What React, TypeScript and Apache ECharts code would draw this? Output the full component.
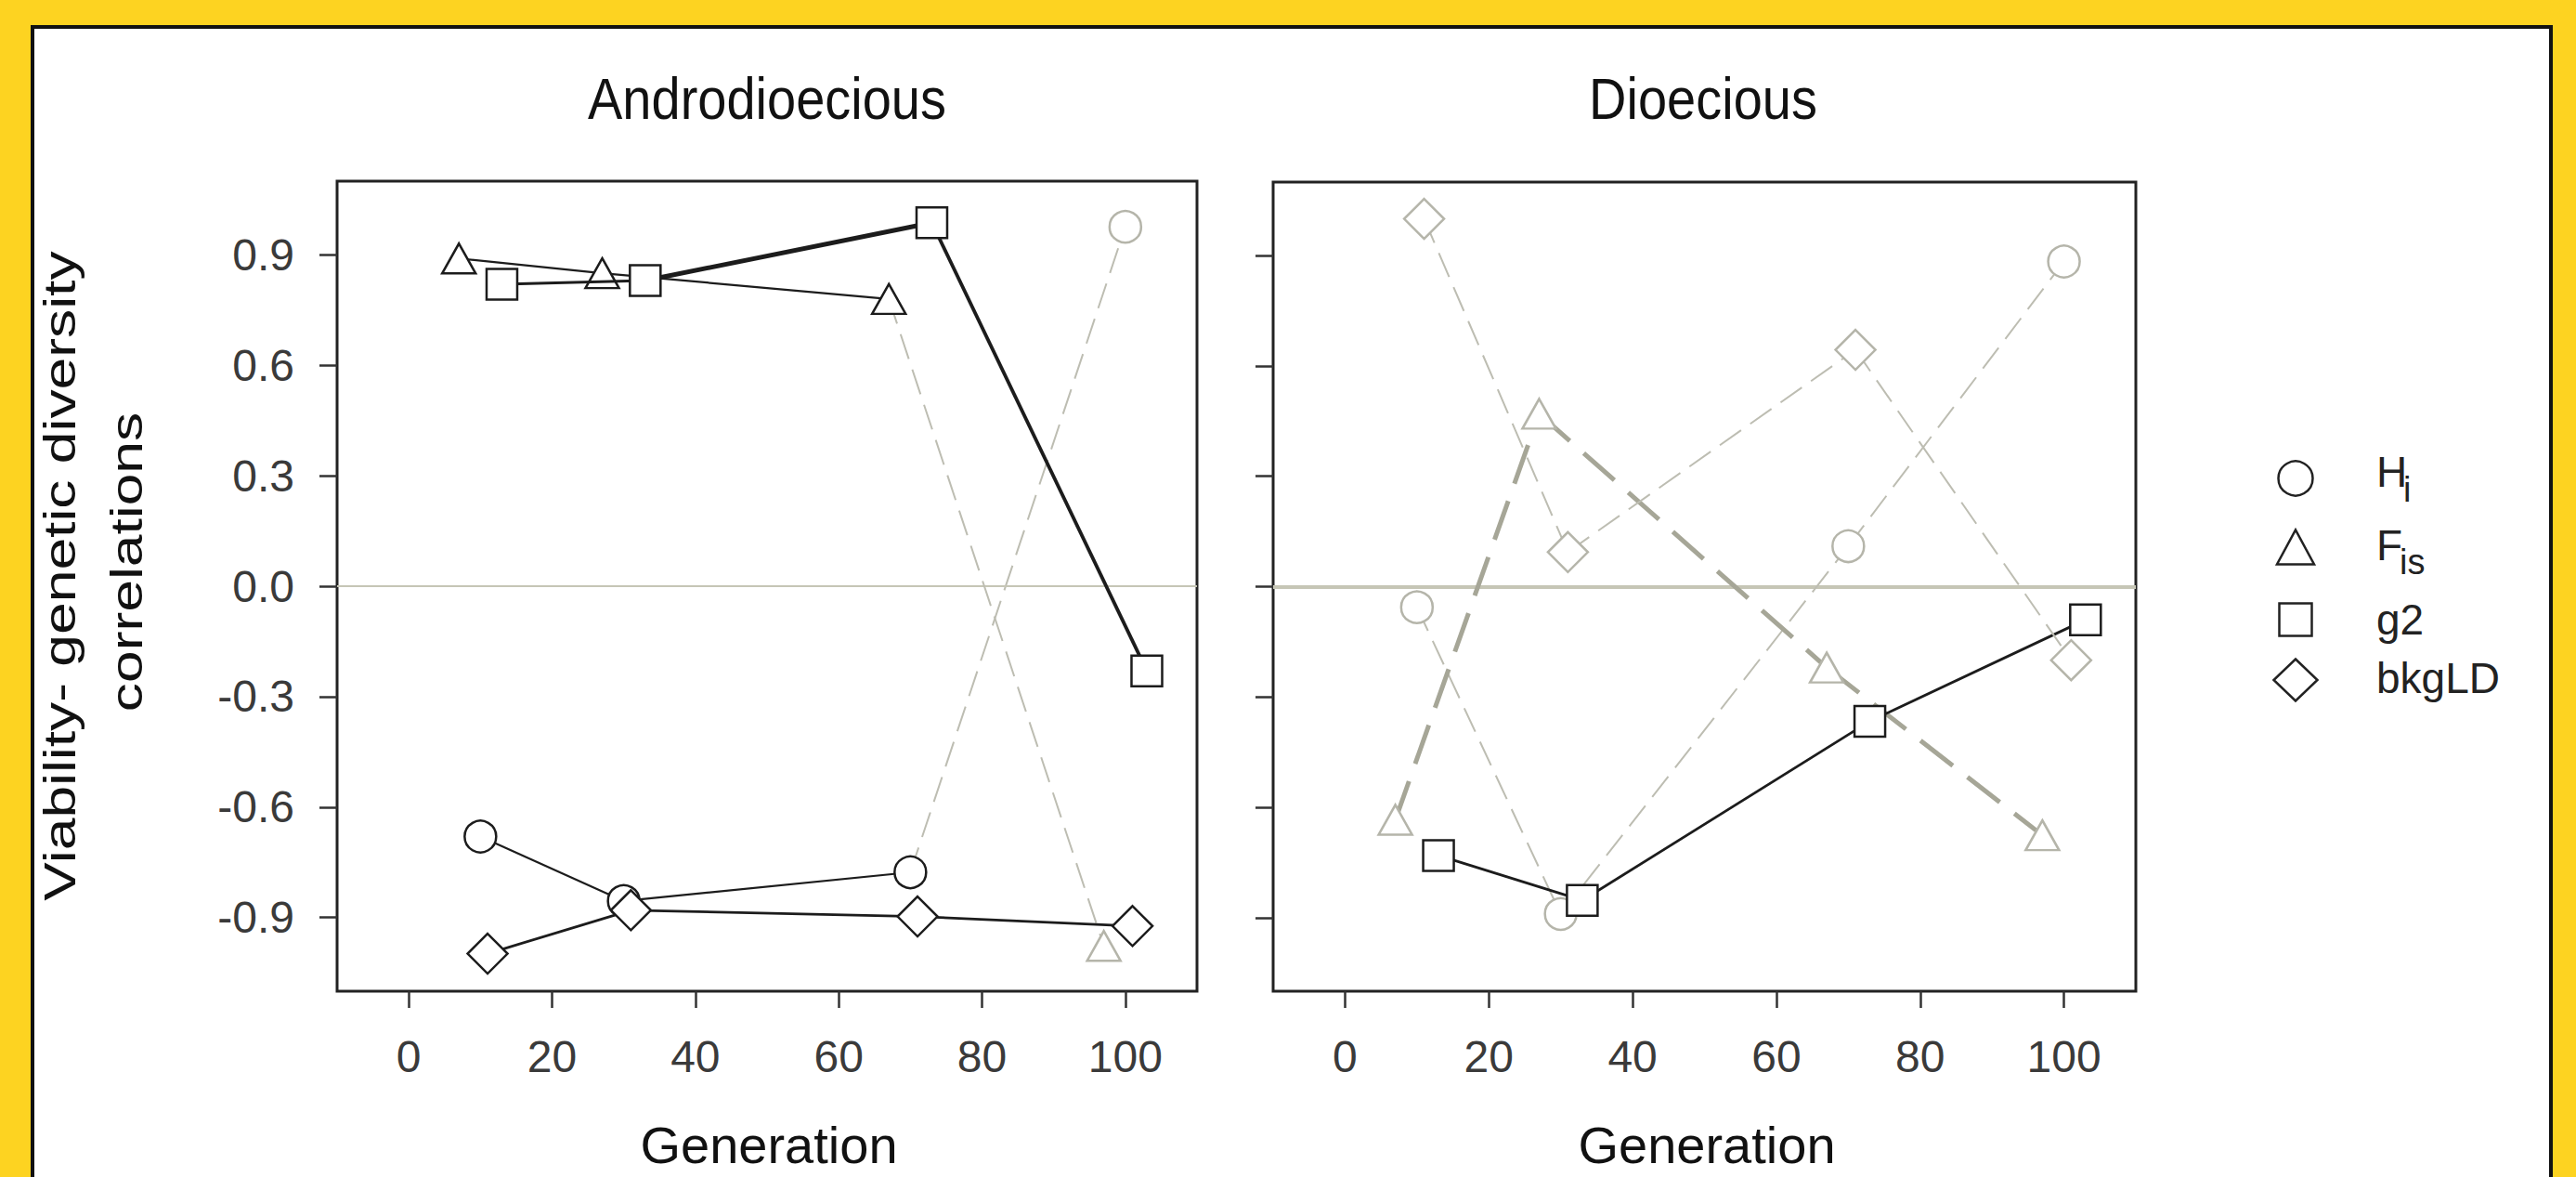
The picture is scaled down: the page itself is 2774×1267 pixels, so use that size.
import React, { useEffect, useRef } from 'react';
import * as echarts from 'echarts';

// ---------- data ----------
const PANELS = ['Androdioecious', 'Dioecious'];
const VARIABLES = ['Hi', 'Fis', 'g2', 'bkgLD'];
const X_TICKS = [0, 20, 40, 60, 80, 100];
const Y_TICKS = [-0.9, -0.6, -0.3, 0, 0.3, 0.6, 0.9];

// generation (x) of each point, slightly offset per variable as in the figure
const GEN_HI = [10, 30, 70, 100];
const GEN_FIS = [7, 27, 67, 97];
const GEN_G2 = [13, 33, 73, 103];
const GEN_BKGLD = [11, 31, 71, 101];

// Androdioecious correlations
const ANDRO_HI = [-0.68, -0.855, -0.777, 0.976];
const ANDRO_FIS = [0.89, 0.85, 0.78, -0.977];
const ANDRO_G2 = [0.82, 0.83, 0.987, -0.23];
const ANDRO_BKGLD = [-0.998, -0.88, -0.897, -0.923];

// Dioecious correlations
const DIO_HI = [-0.056, -0.89, 0.11, 0.884];
const DIO_FIS = [-0.634, 0.47, -0.22, -0.676];
const DIO_G2 = [-0.731, -0.853, -0.366, -0.09];
const DIO_BKGLD = [1.0, 0.094, 0.644, -0.2];

// ---------- styles ----------
const FONT = 'Liberation Sans, Arial, Helvetica, sans-serif';
const BLACK = '#1c1c1c';
const GREY_PT = '#b5b5aa';

const LINE_STYLES: Record<string, any> = {
  thin: { color: BLACK, width: 2.2, type: 'solid' },
  med: { color: BLACK, width: 2.8, type: 'solid' },
  mid: { color: BLACK, width: 3.2, type: 'solid' },
  bold: { color: BLACK, width: 5, type: 'solid' },
  bold2: { color: BLACK, width: 3.8, type: 'solid' },
  dash: { color: '#bdbdb2', width: 2, type: [28, 12] },
  thick: { color: '#a6a697', width: 5, type: [44, 20] },
};

const SEG_STYLE = [
  { Hi: ['thin', 'thin', 'dash'], Fis: ['thin', 'thin', 'dash'], g2: ['mid', 'bold', 'bold2'], bkgLD: ['med', 'med', 'med'] },
  { Hi: ['dash', 'dash', 'dash'], Fis: ['thick', 'thick', 'thick'], g2: ['med', 'med', 'med'], bkgLD: ['dash', 'dash', 'dash'] },
];
const PT_STYLE = [
  { Hi: ['k', 'k', 'k', 'g'], Fis: ['k', 'k', 'k', 'g'], g2: ['k', 'k', 'k', 'k'], bkgLD: ['k', 'k', 'k', 'k'] },
  { Hi: ['g', 'g', 'g', 'g'], Fis: ['g', 'g', 'g', 'g'], g2: ['k', 'k', 'k', 'k'], bkgLD: ['g', 'g', 'g', 'g'] },
];

const SYMBOLS: Record<string, { symbol: string; size: any }> = {
  Hi: { symbol: 'circle', size: 34 },
  Fis: { symbol: 'triangle', size: [36, 32] },
  g2: { symbol: 'rect', size: 33 },
  bkgLD: { symbol: 'diamond', size: 43 },
};

const GENS: Record<string, number[]> = { Hi: GEN_HI, Fis: GEN_FIS, g2: GEN_G2, bkgLD: GEN_BKGLD };
const VALUES: Record<string, number[]>[] = [
  { Hi: ANDRO_HI, Fis: ANDRO_FIS, g2: ANDRO_G2, bkgLD: ANDRO_BKGLD },
  { Hi: DIO_HI, Fis: DIO_FIS, g2: DIO_G2, bkgLD: DIO_BKGLD },
];

const GRIDS = [
  { left: 363, top: 195, width: 926, height: 872 },
  { left: 1371, top: 196, width: 929, height: 871 },
];

function buildOption() {
  const series: any[] = [];
  let z = 3;
  PANELS.forEach((panel, p) => {
    // zero reference line
    series.push({
      type: 'line',
      name: panel + ' zero',
      xAxisIndex: p,
      yAxisIndex: p,
      data: [],
      silent: true,
      z: 1,
      markLine: {
        silent: true,
        symbol: 'none',
        label: { show: false },
        lineStyle: { color: '#c6c6b6', width: p === 0 ? 2 : 4, type: 'solid' },
        data: [{ yAxis: 0 }],
      },
    });
    VARIABLES.forEach((v) => {
      const xs = GENS[v];
      const ys = VALUES[p][v];
      const segs = (SEG_STYLE[p] as any)[v] as string[];
      const pts = (PT_STYLE[p] as any)[v] as string[];
      for (let i = 0; i < xs.length - 1; i++) {
        series.push({
          type: 'line',
          name: v,
          xAxisIndex: p,
          yAxisIndex: p,
          symbol: 'none',
          silent: true,
          z: z,
          lineStyle: LINE_STYLES[segs[i]],
          data: [
            [xs[i], ys[i]],
            [xs[i + 1], ys[i + 1]],
          ],
        });
      }
      z++;
      series.push({
        type: 'scatter',
        name: v,
        xAxisIndex: p,
        yAxisIndex: p,
        symbol: SYMBOLS[v].symbol,
        symbolSize: SYMBOLS[v].size,
        silent: true,
        z: z,
        itemStyle: { color: '#ffffff', borderWidth: 2.5, opacity: 1 },
        data: xs.map((x, i) => ({
          value: [x, ys[i]],
          itemStyle: { borderColor: pts[i] === 'k' ? BLACK : GREY_PT },
        })),
      });
      z++;
    });
  });

  const xAxis = PANELS.map((_, p) => ({
    type: 'value',
    gridIndex: p,
    position: 'bottom',
    min: -10,
    max: 110,
    axisLine: { show: false, onZero: false },
    splitLine: { show: false },
    axisTick: {
      show: true,
      length: 18,
      customValues: X_TICKS,
      lineStyle: { color: '#333', width: 2.5 },
    },
    axisLabel: {
      customValues: X_TICKS,
      fontSize: 48,
      fontFamily: FONT,
      color: '#3a3a3a',
      margin: 46,
    },
  }));

  const yAxis = PANELS.map((_, p) => ({
    type: 'value',
    gridIndex: p,
    position: 'left',
    min: -1.1,
    max: 1.1,
    axisLine: { show: false, onZero: false },
    splitLine: { show: false },
    axisTick: {
      show: true,
      length: 19,
      customValues: Y_TICKS,
      lineStyle: { color: '#333', width: 2.5 },
    },
    axisLabel: {
      show: p === 0,
      customValues: Y_TICKS,
      fontSize: 48,
      fontFamily: FONT,
      color: '#3a3a3a',
      margin: 46,
      formatter: (val: number) => val.toFixed(1),
    },
  }));

  const grid = GRIDS.map((g) => ({
    ...g,
    show: true,
    borderColor: '#222',
    borderWidth: 3,
    backgroundColor: 'transparent',
  }));

  const titleText = (text: string, x: number, y: number, sy: number) => ({
    type: 'text',
    x,
    y,
    scaleY: sy,
    z: 50,
    style: {
      text,
      fontSize: 56,
      fontFamily: FONT,
      fill: '#111',
      align: 'center',
      verticalAlign: 'middle',
    },
  });

  const legendY = [515, 589, 667, 732];
  const legendX = 2472;
  const legendMarkers: any[] = [
    { type: 'circle', shape: { cx: legendX, cy: legendY[0], r: 18.5 } },
    {
      type: 'polygon',
      shape: { points: [[legendX - 20, legendY[1] + 18.5], [legendX + 20, legendY[1] + 18.5], [legendX, legendY[1] - 18.5]] },
    },
    { type: 'rect', shape: { x: legendX - 17.5, y: legendY[2] - 17.5, width: 35, height: 35 } },
    {
      type: 'polygon',
      shape: { points: [[legendX, legendY[3] - 22.5], [legendX + 23.5, legendY[3]], [legendX, legendY[3] + 22.5], [legendX - 23.5, legendY[3]]] },
    },
  ].map((m) => ({ ...m, z: 50, style: { fill: '#fff', stroke: '#222', lineWidth: 2.5 } }));

  const legendText = (text: string, x: number, y: number, size: number) => ({
    type: 'text',
    x,
    y,
    z: 50,
    style: { text, fontSize: size, fontFamily: FONT, fill: '#222', align: 'left', verticalAlign: 'middle' },
  });

  const graphic: any[] = [
    {
      type: 'rect',
      z: -100,
      shape: { x: 35, y: 29, width: 2712, height: 1300 },
      style: { fill: '#ffffff', stroke: '#111', lineWidth: 4 },
    },
    titleText(PANELS[0], 826, 106, 1.12),
    titleText(PANELS[1], 1834, 106, 1.12),
    titleText('Generation', 828, 1232, 1.0),
    titleText('Generation', 1838, 1232, 1.0),
    {
      type: 'text',
      x: 65,
      y: 620,
      rotation: Math.PI / 2,
      scaleX: 1.3,
      z: 50,
      style: { text: 'Viability- genetic diversity', fontSize: 48, fontFamily: FONT, fill: '#111', align: 'center', verticalAlign: 'middle' },
    },
    {
      type: 'text',
      x: 137,
      y: 605,
      rotation: Math.PI / 2,
      scaleX: 1.3,
      z: 50,
      style: { text: 'correlations', fontSize: 48, fontFamily: FONT, fill: '#111', align: 'center', verticalAlign: 'middle' },
    },
    ...legendMarkers,
    legendText('H', 2559, 508, 46),
    legendText('i', 2588, 527, 38),
    legendText('F', 2559, 587, 46),
    legendText('is', 2584, 605, 38),
    legendText('g2', 2559, 667, 46),
    legendText('bkgLD', 2559, 730, 46),
  ];

  return {
    animation: false,
    backgroundColor: '#FDD321',
    grid,
    xAxis,
    yAxis,
    series,
    graphic,
  };
}

export default function App() {
  const ref = useRef<HTMLDivElement>(null);
  useEffect(() => {
    if (!ref.current) return;
    const chart = echarts.init(ref.current, undefined, { renderer: 'svg' });
    chart.setOption(buildOption() as any);
    return () => chart.dispose();
  }, []);
  return (
    <div
      ref={ref}
      style={{ position: 'fixed', left: 0, top: 0, width: 2774, height: 1267 }}
    />
  );
}
